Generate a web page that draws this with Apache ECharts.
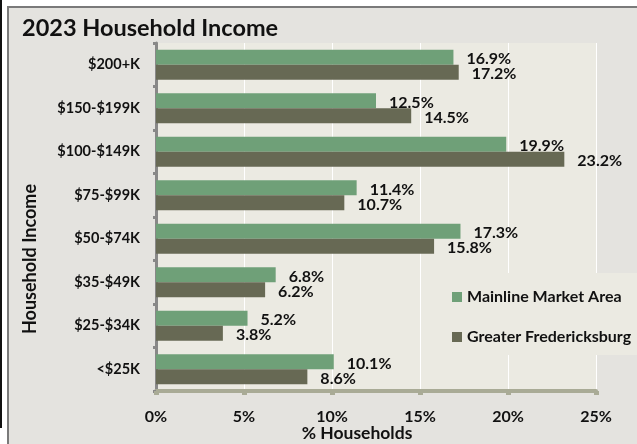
<!DOCTYPE html>
<html>
<head>
<meta charset="utf-8">
<script src="https://cdn.jsdelivr.net/npm/echarts@6/dist/echarts.min.js"></script>
<style>
html,body{margin:0;padding:0;background:#fff;}
#c{width:637px;height:444px;}
</style>
</head>
<body>
<div id="c"></div>
<script>
const categories = ['$200+K','$150-$199K','$100-$149K','$75-$99K','$50-$74K','$35-$49K','$25-$34K','<$25K'];
const mainline = [16.9, 12.5, 19.9, 11.4, 17.3, 6.8, 5.2, 10.1];
const fredericksburg = [17.2, 14.5, 23.2, 10.7, 15.8, 6.2, 3.8, 8.6];
const seriesNames = ['Mainline Market Area', 'Greater Fredericksburg'];
const xTicks = [0, 5, 10, 15, 20, 25];

const FONT = 'Lato';
const chart = echarts.init(document.getElementById('c'));
const lbl = {
  show: true, position: 'right', distance: 13,
  formatter: p => p.value.toFixed(1) + '%',
  fontFamily: FONT, fontWeight: 'bold', fontSize: 16, color: '#111', offset: [0, 2]
};
chart.setOption({
  backgroundColor: '#ffffff',
  animation: false,
  graphic: [
    { type: 'rect', shape: { x: 8, y: 7, width: 640, height: 450 }, style: { fill: '#e4e3df', stroke: '#7a7a7a', lineWidth: 2 }, z: -10 },
    { type: 'line', shape: { x1: 1, y1: 0, x2: 1, y2: 428 }, style: { stroke: '#111', lineWidth: 2 } },
    { type: 'rect', shape: { x: 443, y: 273, width: 200, height: 82 }, style: { fill: '#ebeae2' }, z: 5 },
    { type: 'text', x: 22, y: 28, style: { text: '2023 Household Income', fontFamily: FONT, fontWeight: 'bold', fontSize: 23.5, fill: '#111', verticalAlign: 'middle' } },
    { type: 'text', x: 357, y: 433, style: { text: '% Households', fontFamily: FONT, fontWeight: 'bold', fontSize: 17.5, fill: '#111', align: 'center', verticalAlign: 'middle' } },
    { type: 'text', x: 30, y: 259, rotation: Math.PI / 2, style: { text: 'Household Income', fontFamily: FONT, fontWeight: 'bold', fontSize: 18, fill: '#111', align: 'center', verticalAlign: 'middle' } }
  ],
  legend: {
    orient: 'vertical', left: 447, top: 284, itemWidth: 10, itemHeight: 10, itemGap: 24, z: 6,
    icon: 'rect', itemStyle: { borderWidth: 0 },
    textStyle: { fontFamily: FONT, fontWeight: 'bold', fontSize: 16, color: '#111' },
    data: seriesNames
  },
  grid: { left: 156, right: 41, top: 43, bottom: 53, show: true, backgroundColor: '#ebeae2', borderWidth: 0 },
  xAxis: {
    type: 'value', min: 0, max: 25, interval: 5,
    axisLine: { show: true, lineStyle: { color: '#a9ab96', width: 4 } },
    axisTick: { show: true, length: 4, lineStyle: { color: '#a9ab96', width: 5 } },
    axisLabel: { formatter: v => xTicks.includes(v) ? v + '%' : '', margin: 18, fontFamily: FONT, fontWeight: 'bold', fontSize: 16, color: '#111' },
    splitLine: { show: true, lineStyle: { color: '#ffffff', width: 1 } }
  },
  yAxis: {
    type: 'category', data: categories, inverse: true,
    axisLine: { show: true, lineStyle: { color: '#888888', width: 3 } },
    axisTick: { show: true, length: 3, lineStyle: { color: '#888888', width: 3 } },
    axisLabel: { margin: 16, fontFamily: FONT, fontWeight: 'bold', fontSize: 14.5, color: '#111' }
  },
  series: [
    { name: seriesNames[0], type: 'bar', data: mainline, barWidth: 15, barGap: '0%', itemStyle: { color: '#6fa078' }, label: lbl },
    { name: seriesNames[1], type: 'bar', data: fredericksburg, barWidth: 15, barGap: '0%', itemStyle: { color: '#676954' }, label: lbl }
  ]
});
</script>
</body>
</html>
